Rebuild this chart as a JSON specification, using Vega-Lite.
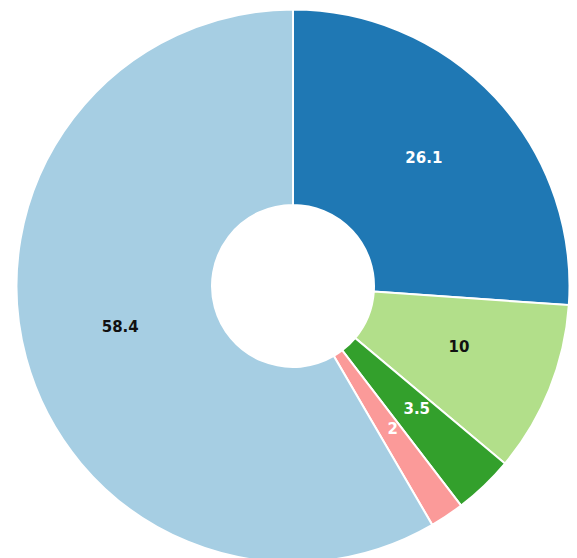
{
  "$schema": "https://vega.github.io/schema/vega-lite/v6.json",
  "autosize": {"type": "none"},
  "padding": {"left": 13, "top": 6, "right": 0, "bottom": 0},
  "width": 560,
  "height": 560,
  "background": "white",
  "view": {"stroke": null},
  "data": {
    "values": [
      {"order": 1, "category": "A", "value": 26.1},
      {"order": 2, "category": "B", "value": 10},
      {"order": 3, "category": "C", "value": 3.5},
      {"order": 4, "category": "D", "value": 2},
      {"order": 5, "category": "E", "value": 58.4}
    ]
  },
  "encoding": {
    "theta": {"field": "value", "type": "quantitative", "stack": true},
    "order": {"field": "order", "type": "quantitative"}
  },
  "layer": [
    {
      "mark": {"type": "arc", "innerRadius": 81, "outerRadius": 276.5, "stroke": "white", "strokeWidth": 2},
      "encoding": {
        "color": {
          "field": "category",
          "type": "nominal",
          "scale": {"domain": ["A", "B", "C", "D", "E"], "range": ["#1f78b4", "#b2df8a", "#33a02c", "#fb9a99", "#a6cee3"]},
          "legend": null
        }
      }
    },
    {
      "mark": {"type": "text", "radius": 179, "dy": -6, "font": "DejaVu Sans", "fontWeight": "bold", "fontSize": 15, "align": "center", "baseline": "middle"},
      "encoding": {
        "text": {"field": "value", "type": "quantitative"},
        "color": {
          "condition": {"test": "datum.category === 'B' || datum.category === 'E'", "value": "#111111"},
          "value": "white"
        }
      }
    }
  ]
}
